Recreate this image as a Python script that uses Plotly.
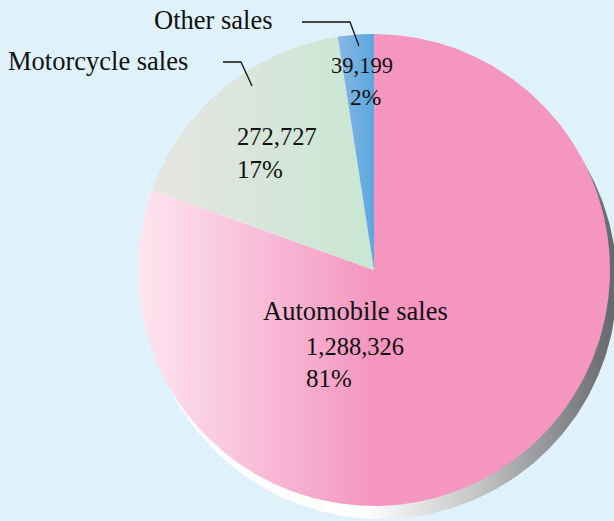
import numpy as np
import plotly.graph_objects as go

# ---- data ----
categories = ["Automobile sales", "Motorcycle sales", "Other sales"]
values = [1288326, 272727, 39199]
value_labels = ["1,288,326", "272,727", "39,199"]
pct_labels = ["81%", "17%", "2%"]

# ---- styling ----
W, H = 614, 521
CX, CY, R = 374, 270, 236          # pie centre / radius in pixels
BG = "#dff1fb"
FONT = "Liberation Serif"
slice_grads = [
    dict(colorscale=[[0, "#fde6f0"], [1, "#f496c0"]], start=-1.0, stop=0.0),
    dict(colorscale=[[0, "#e7e5e1"], [1, "#c8e6d3"]], start=-0.95, stop=0.0),
    dict(colorscale=[[0, "#84b6e3"], [1, "#5aa7dc"]], start=-0.14, stop=0.0),
]

# axes in units of the radius, centred on the pie
xr = [-CX / R, (W - CX) / R]
yr = [-(H - CY) / R, CY / R]


def pxy(px, py):
    return (px - CX) / R, (CY - py) / R


def ppaper(px, py):
    return px / W, 1 - py / H


fig = go.Figure()

# shadow disc
t = np.linspace(0, 2 * np.pi, 400)
sx, sy = 7 / R, -13 / R
fig.add_trace(go.Scatter(
    x=np.sin(t) + sx, y=np.cos(t) + sy, mode="lines", fill="toself",
    line=dict(width=0), hoverinfo="skip", showlegend=False,
    fillgradient=dict(type="horizontal", start=-1.0, stop=1.03,
                      colorscale=[[0, "#ffffff"], [0.47, "#ffffff"],
                                  [0.7, "#c6c7c8"], [1, "#63666a"]]),
))

# slices: clockwise from 12 o'clock
total = sum(values)
cum = 0.0
for v, g in zip(values, slice_grads):
    a0 = cum / total * 2 * np.pi
    cum += v
    a1 = cum / total * 2 * np.pi
    n = max(4, int((a1 - a0) / (2 * np.pi) * 500))
    ang = np.linspace(a0, a1, n)
    xs = np.concatenate([[0], np.sin(ang), [0]])
    ys = np.concatenate([[0], np.cos(ang), [0]])
    fig.add_trace(go.Scatter(
        x=xs, y=ys, mode="lines", fill="toself", line=dict(width=0),
        hoverinfo="skip", showlegend=False,
        fillgradient=dict(type="horizontal", **g),
    ))

# labels
def label(text, px, py, size=25):
    x, y = ppaper(px, py)
    fig.add_annotation(text=text, x=x, y=y, xref="paper", yref="paper",
                       xanchor="left", yanchor="middle", showarrow=False,
                       font=dict(family=FONT, size=size, color="#111111"))

label(categories[0], 261, 311, 26.5)
label(value_labels[0], 304, 346, 24.5)
label(pct_labels[0], 304, 378, 25)
label(categories[1], 6, 61, 26.5)
label(value_labels[1], 235, 137, 24.5)
label(pct_labels[1], 235, 169, 25)
label(categories[2], 152, 20, 26.5)
label(value_labels[2], 329, 66, 22.5)
label(pct_labels[2], 348, 97, 23.5)

# leader lines
def leader(pts):
    p = [pxy(*q) for q in pts]
    path = "M " + " L ".join(f"{a:.4f},{b:.4f}" for a, b in p)
    fig.add_shape(type="path", path=path, xref="x", yref="y",
                  line=dict(color="#111111", width=1.3))

leader([(302, 22), (350, 22), (359, 46)])
leader([(223, 62), (241, 62), (252, 86)])

fig.update_layout(
    width=W, height=H, margin=dict(l=0, r=0, t=0, b=0),
    paper_bgcolor=BG, plot_bgcolor=BG,
    xaxis=dict(range=xr, visible=False, fixedrange=True),
    yaxis=dict(range=yr, visible=False, fixedrange=True,
               scaleanchor="x", scaleratio=1),
    showlegend=False,
)
fig.write_html("out.html")
